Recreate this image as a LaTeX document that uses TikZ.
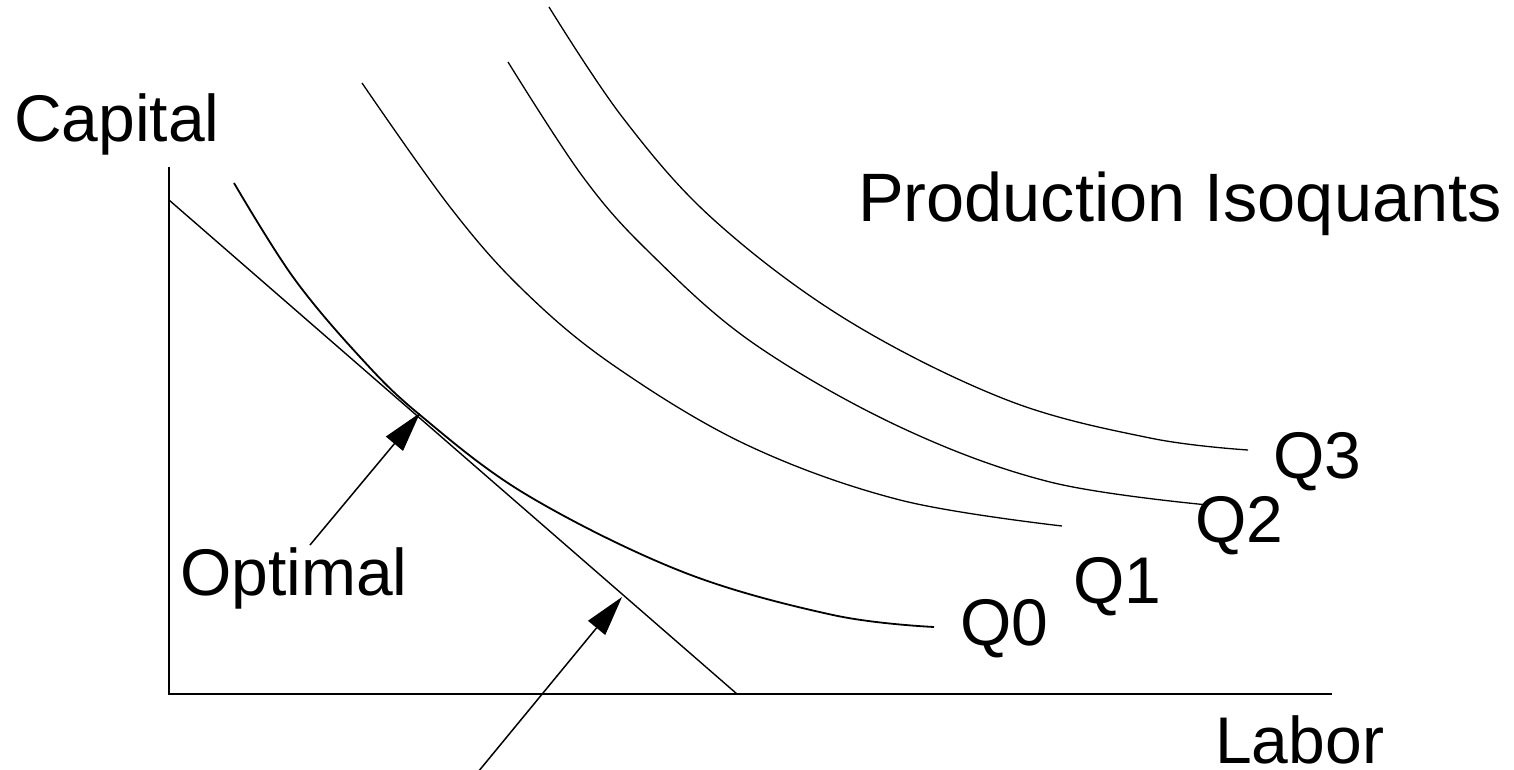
\documentclass[tikz,border=0pt]{standalone}
\usepackage{fontspec}
\setmainfont{Liberation Sans}
\usetikzlibrary{arrows.meta}
\begin{document}
\begin{tikzpicture}[x=1pt,y=-1pt,
  curve/.style={line width=1.3pt, smooth, tension=0.6},
  axis/.style={line width=1.6pt},
  lbl/.style={anchor=base west, inner sep=0pt, font=\fontsize{66}{70}\selectfont},
  pointer/.style={line width=1.5pt, -{Triangle[length=40pt,width=22pt]}}]
\useasboundingbox (0,0) rectangle (1514,770);
% axes
\coordinate (O) at (169,694);
\coordinate (ytop) at (169,167);
\coordinate (xend) at (1332,694);
\draw[axis] (ytop) -- (O) -- (xend);
% budget line
\coordinate (b1) at (169,200);
\coordinate (b2) at (737,694);
\draw[line width=1.4pt] (b1) -- (b2);
% isoquants
\draw[curve, line width=1.8pt] plot coordinates {(234,183) (293,277) (360,357) (420,415) (527,495) (683,572) (833,615) (934,627)};
\draw[curve] plot coordinates {(362,83) (450,207) (523,290) (613,365) (747,445) (900,500) (1062,526)};
\draw[curve] plot coordinates {(508,62) (583,177) (650,253) (753,343) (900,427) (1050,482) (1208,505)};
\draw[curve] plot coordinates {(549,7) (623,118) (714,220) (847,320) (1007,400) (1150,438) (1248,450)};
% labels
\node[lbl] (cap) at (14,142) {Capital};
\node[lbl, font=\fontsize{68.5}{72}\selectfont] (prod) at (858,222) {Production Isoquants};
\node[lbl] (q0) at (960,645) {Q0};
\node[lbl] (q1) at (1073,603) {Q1};
\node[lbl] (q2) at (1195,542) {Q2};
\node[lbl] (q3) at (1273,478) {Q3};
\node[lbl] (opt) at (180,595) {Optimal};
\node[lbl] (lab) at (1215,763) {Labor};
% pointers
\coordinate (optTail) at (310,545);
\coordinate (optTip) at (420,413);
\draw[pointer] (optTail) -- (optTip);
\coordinate (budTail) at (478,772);
\coordinate (budTip) at (622,597);
\draw[pointer] (budTail) -- (budTip);
\end{tikzpicture}
\end{document}
